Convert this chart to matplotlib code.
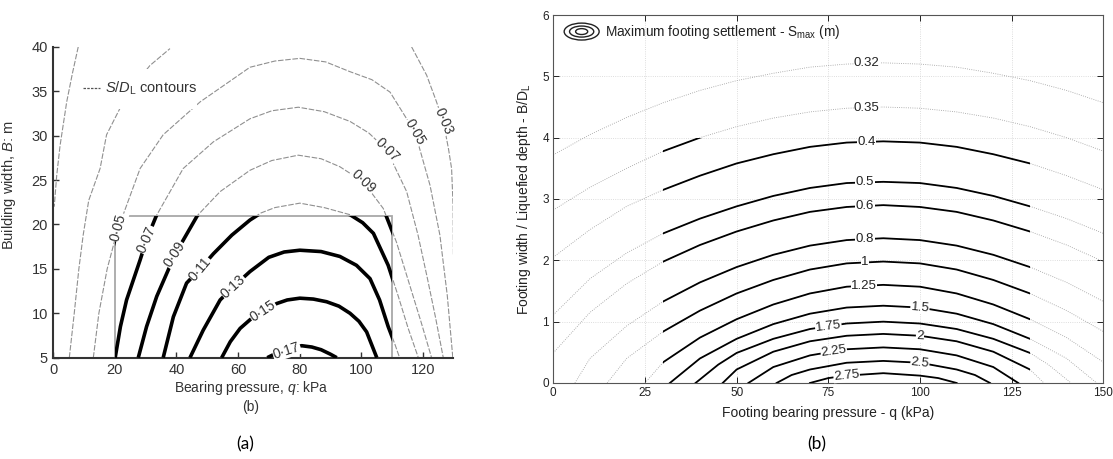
import numpy as np
import matplotlib
matplotlib.use('Agg')
import matplotlib.pyplot as plt
from matplotlib.patches import Rectangle, Ellipse

plt.rcParams['font.family'] = ['Liberation Sans', 'DejaVu Sans']
plt.rcParams['mathtext.fontset'] = 'custom'
plt.rcParams['mathtext.rm'] = 'Liberation Sans'
plt.rcParams['mathtext.it'] = 'Liberation Sans:italic'

# ---------------- panel (a): S/D_L contours, q (kPa) vs B (m) ----------------
a_q_001 = [8.1, 6.2, 4.35, 2.2, 1.1, 0.3]
a_b_001 = [40.0, 37.0, 33.8, 28.9, 25.5, 22.0]
a_q_003l = [5.2, 6.8, 8.3, 9.7, 11.5, 15.2, 17.3, 21.7, 26.5, 31.4, 37.9]
a_b_003l = [5.0, 10.0, 15.0, 18.8, 22.7, 26.3, 30.1, 33.1, 35.8, 37.9, 39.8]
a_q_003r = [116.4, 121.3, 124.3, 126.7, 128.4, 129.4, 129.9, 130.0]
a_b_003r = [40.0, 36.8, 34.0, 31.6, 28.5, 26.3, 22.0, 16.5]
a_q_005 = [13.0, 14.8, 17.5, 21.1, 22.7, 28.2, 35.7, 47.7, 63.9, 72.0, 80.1, 88.5, 96.4, 103.5,
           109.4, 117.5, 122.4, 125.6, 128.0, 129.8]
a_b_005 = [5.0, 10.0, 15.0, 19.7, 21.1, 26.3, 30.1, 33.8, 37.7, 38.4, 38.7, 38.3, 37.2, 36.3,
           34.9, 30.4, 24.4, 18.8, 12.0, 5.0]
a_q_007 = [20.1, 21.8, 23.8, 28.2, 30.3, 33.5, 42.2, 52.0, 63.9, 71.0, 79.6, 88.0, 96.4, 102.5,
           108.3, 114.8, 118.5, 121.5, 124.2, 126.7]
a_b_007 = [5.0, 8.5, 11.5, 16.0, 18.3, 21.0, 26.3, 29.3, 31.9, 32.8, 33.2, 32.7, 31.6, 30.3,
           28.4, 23.7, 18.8, 14.0, 9.5, 5.0]
a_q_009 = [27.6, 30.3, 33.6, 39.5, 46.8, 54.2, 63.9, 71.0, 79.6, 87.0, 93.1, 100.7, 107.2, 111.5,
           115.5, 119.5, 122.9]
a_b_009 = [5.0, 8.5, 11.9, 16.6, 21.0, 23.7, 26.1, 27.2, 27.8, 27.4, 26.5, 24.8, 21.8, 18.0,
           13.5, 9.0, 5.0]
a_q_011 = [35.7, 39.0, 43.3, 47.7, 52.0, 58.0, 63.9, 67.5, 72.0, 80.1, 88.0, 96.4, 100.5, 104.0,
           108.8, 112.0, 115.3, 118.6]
a_b_011 = [5.0, 9.6, 13.4, 15.0, 16.7, 18.8, 20.5, 21.3, 21.9, 22.4, 21.9, 21.1, 20.2, 19.0,
           15.4, 12.0, 8.3, 5.0]
a_q_013 = [44.4, 48.7, 54.2, 58.5, 63.9, 70.0, 75.0, 80.1, 87.0, 93.1, 98.5, 102.9, 106.0, 108.8,
           111.0, 112.5]
a_b_013 = [5.0, 8.1, 11.5, 13.0, 14.7, 16.3, 16.9, 17.1, 16.95, 16.4, 15.4, 13.9, 11.5, 8.5,
           6.5, 5.0]
a_q_015 = [54.7, 57.5, 60.7, 64.0, 68.2, 72.6, 76.0, 80.1, 84.5, 88.8, 92.8, 96.4, 99.3, 101.8,
           105.1]
a_b_015 = [5.0, 6.8, 8.3, 9.3, 10.2, 11.1, 11.5, 11.7, 11.6, 11.3, 10.8, 10.0, 9.1, 7.9, 5.0]
a_q_017 = [69.5, 73.0, 76.0, 80.7, 84.0, 87.0, 90.0, 92.1]
a_b_017 = [5.0, 5.6, 6.0, 6.35, 6.2, 5.9, 5.4, 5.0]

a_lab_text = ['0·03', '0·05', '0·07', '0·09', '0·05', '0·07', '0·09', '0·11', '0·13', '0·15', '0·17']
a_lab_q = [126.7, 117.5, 108.3, 100.7, 21.1, 30.3, 39.5, 47.7, 58.5, 68.2, 75.8]
a_lab_b = [31.6, 30.4, 28.4, 24.8, 19.7, 18.3, 16.6, 15.0, 13.0, 10.2, 5.8]
a_lab_rot = [-67, -60, -45, -43, 75, 66, 57, 50, 42, 33, 18]

# ---------------- panel (b): S_max contours, q (kPa) vs B/D_L ----------------
b_levels = ['0.32', '0.35', '0.4', '0.5', '0.6', '0.8', '1', '1.25', '1.5', '1.75', '2', '2.25', '2.5', '2.75']
b_q_full = [0, 10, 20, 30, 40, 50, 60, 70, 80, 90, 100, 110, 120, 130, 140, 150]
b_s_032 = [3.72, 4.05, 4.33, 4.57, 4.77, 4.93, 5.05, 5.15, 5.20, 5.22, 5.20, 5.15, 5.05, 4.93, 4.77, 4.57]
b_s_035 = [2.82, 3.19, 3.50, 3.78, 4.00, 4.18, 4.32, 4.42, 4.48, 4.50, 4.48, 4.42, 4.32, 4.18, 4.00, 3.78]
b_s_04 = [2.05, 2.50, 2.88, 3.15, 3.38, 3.58, 3.73, 3.85, 3.92, 3.94, 3.92, 3.85, 3.73, 3.58, 3.38, 3.15]
b_s_05 = [1.11, 1.70, 2.12, 2.44, 2.68, 2.88, 3.05, 3.18, 3.26, 3.28, 3.26, 3.18, 3.05, 2.88, 2.68, 2.44]
b_s_06 = [0.49, 1.15, 1.62, 1.98, 2.25, 2.47, 2.65, 2.79, 2.87, 2.90, 2.87, 2.79, 2.65, 2.47, 2.25, 1.98]
b_q_08 = [5.9, 10, 20, 30, 40, 50, 60, 70, 80, 90, 100, 110, 120, 130, 140, 150]
b_s_08 = [0.0, 0.40, 0.93, 1.33, 1.64, 1.89, 2.09, 2.24, 2.33, 2.36, 2.33, 2.24, 2.09, 1.89, 1.64, 1.33]
b_q_1 = [14.7, 20, 30, 40, 50, 60, 70, 80, 90, 100, 110, 120, 130, 140, 150]
b_s_1 = [0.0, 0.40, 0.84, 1.18, 1.46, 1.68, 1.85, 1.95, 1.98, 1.95, 1.85, 1.68, 1.46, 1.18, 0.84]
b_q_125 = [25, 30, 40, 50, 60, 70, 80, 90, 100, 110, 120, 130, 140, 150]
b_s_125 = [0.0, 0.34, 0.74, 1.04, 1.28, 1.46, 1.57, 1.60, 1.57, 1.46, 1.28, 1.04, 0.74, 0.34]
b_q_15 = [31.8, 40, 50, 60, 70, 80, 90, 100, 110, 120, 130, 140, 148.2]
b_s_15 = [0.0, 0.40, 0.72, 0.96, 1.13, 1.23, 1.26, 1.23, 1.13, 0.96, 0.72, 0.40, 0.0]
b_q_175 = [38.8, 45, 50, 60, 70, 80, 90, 100, 110, 120, 130, 135, 141.2]
b_s_175 = [0.0, 0.30, 0.49, 0.72, 0.88, 0.97, 1.00, 0.97, 0.88, 0.72, 0.49, 0.30, 0.0]
b_q_2 = [46.2, 50, 60, 70, 80, 90, 100, 110, 120, 130, 133.8]
b_s_2 = [0.0, 0.22, 0.51, 0.68, 0.77, 0.80, 0.77, 0.68, 0.51, 0.22, 0.0]
b_q_225 = [53.2, 60, 70, 80, 90, 100, 110, 120, 126.8]
b_s_225 = [0.0, 0.26, 0.45, 0.55, 0.58, 0.55, 0.45, 0.26, 0.0]
b_q_25 = [60.9, 65, 70, 80, 90, 100, 110, 115, 119.1]
b_s_25 = [0.0, 0.13, 0.22, 0.33, 0.36, 0.33, 0.22, 0.13, 0.0]
b_q_275 = [70, 75, 80, 90, 100, 105, 110]
b_s_275 = [0.0, 0.08, 0.12, 0.16, 0.12, 0.08, 0.0]

b_lab_q = [85.5, 85.5, 85.5, 85, 85, 85, 85, 84.7, 100, 75, 100, 76.5, 100, 80]
b_lab_rot = [0, 0, 0, 0, 0, 0, 0, 0, -5, 7, -3, 8, -6, 6]

a_curves = [(a_q_001, a_b_001), (a_q_003l, a_b_003l), (a_q_003r, a_b_003r),
            (a_q_005, a_b_005), (a_q_007, a_b_007), (a_q_009, a_b_009),
            (a_q_011, a_b_011), (a_q_013, a_b_013), (a_q_015, a_b_015),
            (a_q_017, a_b_017)]
b_curves = [(b_q_full, b_s_032), (b_q_full, b_s_035), (b_q_full, b_s_04),
            (b_q_full, b_s_05), (b_q_full, b_s_06), (b_q_08, b_s_08),
            (b_q_1, b_s_1), (b_q_125, b_s_125), (b_q_15, b_s_15),
            (b_q_175, b_s_175), (b_q_2, b_s_2), (b_q_225, b_s_225),
            (b_q_25, b_s_25), (b_q_275, b_s_275)]

fig = plt.figure(figsize=(11.13, 4.59), dpi=100)

# ---- (a)
ax = fig.add_axes([0.0479, 0.2207, 0.3595, 0.6773])
box = Rectangle((20, 5), 90, 16, transform=ax.transData)
for q, b in a_curves:
    ax.plot(q, b, color='#909090', lw=0.8, ls=(0, (5, 1.5)), zorder=2)
    thick, = ax.plot(q, b, color='black', lw=2.6, zorder=3, solid_capstyle='butt',
                     solid_joinstyle='round')
    thick.set_clip_path(box)
ax.add_patch(Rectangle((20, 5), 90, 16, fill=False, ec='#a8a8a8', lw=1.3, zorder=2.5))

for t, q, b, r in zip(a_lab_text, a_lab_q, a_lab_b, a_lab_rot):
    ax.text(q, b, t, rotation=r, rotation_mode='anchor', ha='center', va='center',
            fontsize=10, color='#333333', zorder=6,
            bbox=dict(fc='white', ec='none', pad=0.4))

# legend
ax.add_patch(Rectangle((0.065, 0.80), 0.295, 0.13, transform=ax.transAxes,
                       fc='white', ec='none', zorder=4))
ax.plot([0.074, 0.117], [0.867, 0.867], transform=ax.transAxes, color='#555555',
        lw=0.9, ls=(0, (2, 1)), zorder=5)
ax.text(0.128, 0.867, r'$S/D_{\rm L}$ contours', transform=ax.transAxes, va='center',
        fontsize=10.5, color='#333333', zorder=5)

ax.set_xlim(0, 130)
ax.set_ylim(5, 40)
ax.set_xticks(range(0, 121, 20))
ax.set_yticks(range(5, 41, 5))
for s in ['top', 'right']:
    ax.spines[s].set_visible(False)
for s in ['left', 'bottom']:
    ax.spines[s].set_linewidth(1.5)
    ax.spines[s].set_color('#333333')
ax.tick_params(direction='in', length=4, width=1, colors='#333333', labelsize=10.5, pad=4)
ax.set_xlabel(r'Bearing pressure, $q$: kPa', fontsize=10, color='#333333')
ax.xaxis.set_label_coords(0.494, -0.068)
ax.set_ylabel(r'Building width, $B$: m', fontsize=10.5, color='#333333')
ax.yaxis.set_label_coords(-0.088, 0.555)
ax.text(0.494, -0.16, '(b)', transform=ax.transAxes, ha='center', va='center',
        fontsize=10, color='#333333')

# ---- (b)
bx = fig.add_axes([0.4971, 0.1656, 0.4942, 0.8017])
bx.set_xlim(0, 150)
bx.set_ylim(0, 6)
bx.set_xticks(range(0, 151, 25))
bx.set_yticks(range(0, 7))
bx.grid(True, color='#d2d2d2', ls=':', lw=0.6)
bx.set_axisbelow(True)
region = Rectangle((30, 0), 100, 4, transform=bx.transData)
for q, s in b_curves:
    bx.plot(q, s, color='#9a9a9a', lw=0.6, ls=':', zorder=2)
    line, = bx.plot(q, s, color='black', lw=1.3, zorder=3, solid_joinstyle='round')
    line.set_clip_path(region)

for lev, ql, r, (q, s) in zip(b_levels, b_lab_q, b_lab_rot, b_curves):
    bx.text(ql, np.interp(ql, q, s), lev, rotation=r, rotation_mode='anchor',
            ha='center', va='center', fontsize=9.5, color='#222222', zorder=5,
            bbox=dict(fc='white', ec='none', pad=0.3))

for w, h in [(0.0636, 0.046), (0.044, 0.030), (0.022, 0.016)]:
    bx.add_patch(Ellipse((0.0516, 0.955), w, h, transform=bx.transAxes, fill=False,
                         ec='#222222', lw=1.0, zorder=5))
bx.text(0.094, 0.955, r'Maximum footing settlement - S$_{\rm max}$ (m)', transform=bx.transAxes,
        va='center', fontsize=9.8, color='#222222', zorder=5)

for s in bx.spines.values():
    s.set_color('#555555')
    s.set_linewidth(0.8)
bx.tick_params(direction='in', length=4, width=0.7, top=True, right=True,
               colors='#222222', labelsize=8.5, pad=3)
bx.set_xlabel('Footing bearing pressure - q (kPa)', fontsize=10, color='#222222', labelpad=5)
bx.set_ylabel(r'Footing width / Liquefied depth - B/D$_{\rm L}$', fontsize=10,
              color='#222222', labelpad=7)

fig.text(0.220, 0.031, '(a)', fontsize=12.5, family='Lato', ha='center', va='center')
fig.text(0.734, 0.031, '(b)', fontsize=12.5, family='Lato', ha='center', va='center')

fig.savefig('out.png', dpi=100)
